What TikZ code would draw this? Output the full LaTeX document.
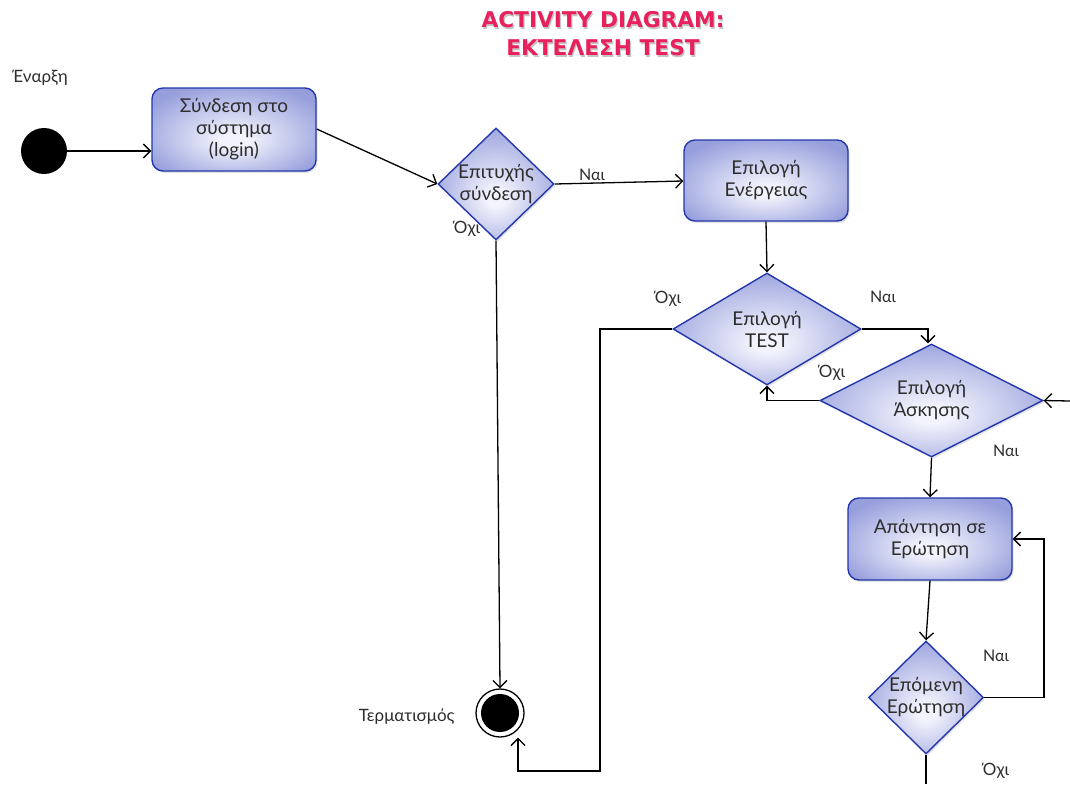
\documentclass[tikz,border=0pt]{standalone}
\usepackage{fontspec}
\setmainfont{Lato}
\newfontfamily\titlefont{DejaVu Sans}
\usetikzlibrary{shapes.geometric,arrows.meta,shadows}
\definecolor{nodeborder}{RGB}{35,55,170}
\definecolor{nodeouter}{RGB}{150,158,220}
\definecolor{nodeinner}{RGB}{242,243,252}
\definecolor{txt}{RGB}{45,45,45}
\definecolor{titlered}{RGB}{232,32,92}
\pgfdeclareradialshading{actshade}{\pgfpoint{0bp}{-7bp}}{color(0bp)=(nodeinner); color(4bp)=(nodeinner); color(31bp)=(nodeouter); color(50bp)=(nodeouter)}
\tikzset{
  actbox/.style={draw=nodeborder, line width=1.4pt, rounded corners=11pt, shading=actshade,
     text=txt, align=center,
     font=\fontsize{19}{22}\selectfont, drop shadow={opacity=0.22,shadow xshift=1.5pt,shadow yshift=-2pt}},
  decis/.style={diamond, draw=nodeborder, line width=1.4pt, shading=actshade,
     text=txt, align=center, inner sep=-10pt,
     font=\fontsize{19}{22}\selectfont, drop shadow={opacity=0.22,shadow xshift=1.5pt,shadow yshift=-2pt}},
  conn/.style={line width=1.3pt, -{Straight Barb[length=7pt,width=14pt,line width=1.3pt]}},
  plain/.style={line width=1.3pt},
  lbl/.style={text=txt, font=\fontsize{17}{20}\selectfont},
  slbl/.style={text=txt, font=\fontsize{16}{19}\selectfont},
  ttl/.style={text=titlered, font=\titlefont\bfseries\fontsize{21.7}{24}\selectfont},
  ttlshadow/.style={text=black!45, opacity=0.5, font=\titlefont\bfseries\fontsize{21.7}{24}\selectfont},
}
\begin{document}
\begin{tikzpicture}[x=1pt,y=-1pt]
\useasboundingbox (0,0) rectangle (1070,784);
% title
\node[ttlshadow] (t1s) at (604.2,21.4) {ACTIVITY DIAGRAM:};
\node[ttlshadow] (t2s) at (604.2,49.4) {ΕΚΤΕΛΕΣΗ TEST};
\node[ttl] (t1) at (603,20) {ACTIVITY DIAGRAM:};
\node[ttl] (t2) at (603,48) {ΕΚΤΕΛΕΣΗ TEST};
% start
\node[circle, fill=black, minimum size=46pt, inner sep=0pt] (start) at (44,151) {};
\node[lbl] (startl) at (40,78) {Έναρξη};
% boxes
\node[actbox, minimum width=164pt, minimum height=83pt] (login) at (234,129.5) {Σύνδεση στο\\σύστημα\\(login)};
\node[decis, minimum width=116pt, minimum height=112pt] (d1) at (496,184) {Επιτυχής\\σύνδεση};
\node[actbox, minimum width=164pt, minimum height=81pt] (act) at (766,180.5) {Επιλογή\\Ενέργειας};
\node[decis, minimum width=188pt, minimum height=112pt] (d2) at (767,329) {Επιλογή\\TEST};
\node[decis, minimum width=223pt, minimum height=113pt] (d3) at (931.5,400.5) {Επιλογή\\Άσκησης};
\node[actbox, minimum width=164pt, minimum height=82pt] (ans) at (930,539) {Απάντηση σε\\Ερώτηση};
\node[decis, minimum width=115pt, minimum height=113pt] (d4) at (926,697.5) {Επόμενη\\Ερώτηση};
% end
\node[circle, draw=black, line width=1.3pt, fill=white, minimum size=48pt, inner sep=0pt] (end) at (500,713) {};
\node[circle, fill=black, minimum size=38pt, inner sep=0pt] (endin) at (500,713) {};
\node[lbl, anchor=east] (endl) at (458,717) {Τερματισμός};
% labels
\node[slbl] (l1) at (592,175) {Ναι};
\node[lbl] (l2) at (467,229) {Όχι};
\node[lbl] (l3) at (668,299) {Όχι};
\node[slbl] (l4) at (883,297) {Ναι};
\node[lbl] (l5) at (832,373) {Όχι};
\node[slbl] (l6) at (1006,451) {Ναι};
\node[slbl] (l7) at (996,656) {Ναι};
\node[lbl] (l8) at (996,771) {Όχι};
% coordinates
\coordinate (inR) at (1070,401);
\coordinate (offB) at (926,784);
% connectors
\draw[conn] (start.east) -- (start.east -| login.west);
\draw[conn] (login.east |- 0,129) -- (d1.west);
\draw[conn] (d1.east) -- (act.west |- 0,181);
\draw[conn] (d1.south) -- (end.north);
\draw[conn] (act.south) -- (d2.north);
\draw[conn] (d2.east) -| (d3.north -| 928,0);
\draw[conn] (d3.west) -| (d2.south);
\draw[conn] (inR) -- (d3.east);
\draw[conn] (d3.south) -- (ans.north);
\draw[conn] (ans.south) -- (d4.north);
\draw[conn] (d4.east) -- (1044,697.5) |- (ans.east);
\draw[plain] (d4.south) -- (offB);
\draw[conn] (d2.west) -- (600,329) -- (600,771) -- (518,771) -- ({518,0} |- end.south);
\end{tikzpicture}
\end{document}
